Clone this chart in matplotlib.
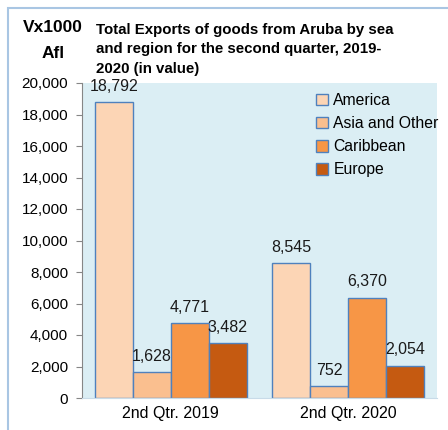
import matplotlib
matplotlib.use("Agg")
import matplotlib.pyplot as plt
import matplotlib.patches as mpatches
import numpy as np

categories = ["2nd Qtr. 2019", "2nd Qtr. 2020"]
series_names = ["America", "Asia and Other", "Caribbean", "Europe"]
america = [18792, 8545]
asia_other = [1628, 752]
caribbean = [4771, 6370]
europe = [3482, 2054]
values = [america, asia_other, caribbean, europe]
colors = ["#fcd5b5", "#fabf8f", "#f79646", "#c55a11"]
edge = "#4f81bd"
yticks = [0, 2000, 4000, 6000, 8000, 10000, 12000, 14000, 16000, 18000, 20000]

plt.rcParams['font.family'] = ['Liberation Sans', 'DejaVu Sans']

fig = plt.figure(figsize=(4.48, 4.30), dpi=100)
# outer chart border
fig.patches.append(mpatches.Rectangle((8/448, -0.1), 1.2, 1 - 8/430 + 0.1,
                                      transform=fig.transFigure, fill=False,
                                      edgecolor="#a9c6e3", linewidth=1.5))

ax = fig.add_axes([82/448, 1 - 398/430, (437 - 82)/448, (398 - 83)/430])
ax.set_facecolor("#dbeef4")

x = np.arange(len(categories))
n = len(series_names)
group_w = 0.855
w = group_w / n
for i, (name, vals, c) in enumerate(zip(series_names, values, colors)):
    pos = x - group_w/2 + w*(i + 0.5)
    bars = ax.bar(pos, vals, width=w, color=c, edgecolor=edge, linewidth=1.0, label=name)
    for b, v in zip(bars, vals):
        ax.annotate(f"{v:,}", (b.get_x() + b.get_width()/2, v), xytext=(0, 6),
                    textcoords="offset points", ha="center", va="bottom",
                    fontsize=11.5, color="#1a1a1a")

ax.set_xlim(-0.5, 1.5)
ax.set_ylim(0, 20000)
ax.set_yticks(yticks)
ax.set_yticklabels([f"{t:,}" for t in yticks], fontsize=11)
ax.set_xticks(x)
ax.set_xticklabels(categories, fontsize=11.5)
ax.tick_params(axis="x", length=0, pad=6)
ax.tick_params(axis="y", length=4, color="#868686", pad=6)
for s in ["top", "right"]:
    ax.spines[s].set_visible(False)
ax.spines["left"].set_color("#868686")
ax.spines["bottom"].set_color("#c8dbe8")

leg = ax.legend(loc="upper left", frameon=False, fontsize=11.3, handlelength=0.75,
                handleheight=0.75, handletextpad=0.35, labelspacing=0.52, borderaxespad=0,
                borderpad=0)
leg.set_bbox_to_anchor((316/448, 1 - 93/430), transform=fig.transFigure)
for h in leg.legend_handles:
    h.set_edgecolor(edge)

fig.text(53/448, 1 - 28/430, "Vx1000", fontsize=12.5, fontweight="bold", ha="center", va="center")
fig.text(53/448, 1 - 53/430, "Afl", fontsize=12.5, fontweight="bold", ha="center", va="center")
fig.text(96/448, 1 - 23/430, "Total Exports of goods from Aruba by sea\nand region for the second quarter, 2019-\n2020 (in value)",
         fontsize=10.8, fontweight="bold", ha="left", va="top", linespacing=1.5)

fig.savefig("out.png", dpi=100)
